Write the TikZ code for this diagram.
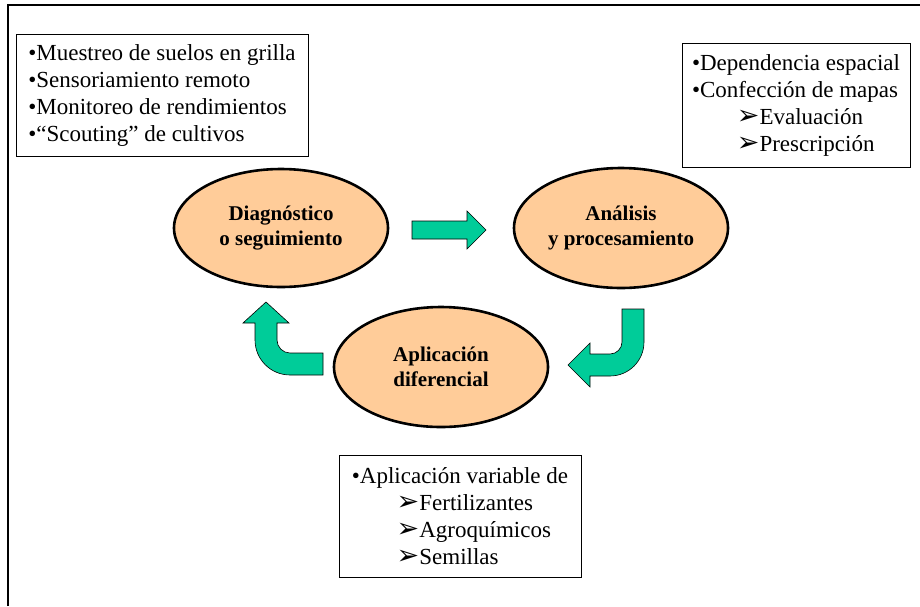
\documentclass[tikz,border=0pt]{standalone}
\usepackage{fontspec}
\setmainfont{Liberation Serif}
\newfontfamily\dingfont{DejaVu Sans}
\usetikzlibrary{shapes.geometric}

\definecolor{peach}{HTML}{FFCC99}
\definecolor{teal}{HTML}{00CC99}
\newcommand{\itm}{\textbullet}
\newcommand{\subitm}{\hspace*{1.95em}{\dingfont\fontsize{27}{27}\selectfont ➢}}

\tikzset{
    listbox/.style={draw, line width=0.8pt, rectangle, align=left, inner sep=0pt,
        font=\fontsize{23}{27}\selectfont},
    stage/.style={draw, line width=2.6pt, ellipse, fill=peach, align=center, inner sep=0pt,
        minimum width=214pt, font=\bfseries\fontsize{21}{25}\selectfont},
    blockarrow/.style={draw, line width=0.6pt, fill=teal}
}

\begin{document}
\begin{tikzpicture}[x=1pt, y=-1pt]
        \useasboundingbox (0,0) rectangle (920,606);
        % frame (top and left edges only)
        \draw[line width=2.6pt] (8,606) -- (8,5) -- (920,5);

        % text boxes
        \node[listbox, minimum width=292pt, minimum height=122pt] (diagbox) at (162,95)
            {\itm Muestreo de suelos en grilla\\
             \itm Sensoriamiento remoto\\
             \itm Monitoreo de rendimientos\\
             \itm ``Scouting'' de cultivos};
        \node[listbox, minimum width=228pt, minimum height=124pt] (analbox) at (796,105)
            {\itm Dependencia espacial\\
             \itm Confección de mapas\\
             \subitm Evaluación\\
             \subitm Prescripción};
        \node[listbox, minimum width=242pt, minimum height=122pt] (aplbox) at (460,516)
            {\itm Aplicación variable de\\
             \subitm Fertilizantes\\
             \subitm Agroquímicos\\
             \subitm Semillas};

        % stages of the cycle
        \node[stage, minimum height=118pt] (diag) at (281,228) {Diagnóstico\\o seguimiento};
        \node[stage, minimum height=120pt] (anal) at (621,228) {Análisis\\y procesamiento};
        \node[stage, minimum height=120pt] (apl) at (441,367) {Aplicación\\diferencial};

        % block arrows
        \draw[blockarrow] (412,221) -- (467,221) -- (467,211) -- (486,230)
            -- (467,249) -- (467,239) -- (412,239) -- cycle;
        \draw[blockarrow] (622,309) -- (644,309) -- (644,342)
            .. controls (644,360.8) and (628.8,376) .. (610,376)
            -- (590,376) -- (590,387) -- (568,365) -- (590,343) -- (590,354) -- (610,354)
            .. controls (616.6,354) and (622,348.6) .. (622,342) -- cycle;
        \draw[blockarrow] (323,353) -- (323,375) -- (290,375)
            .. controls (270.7,375) and (255,359.3) .. (255,340)
            -- (255,323) -- (243,323) -- (266,302) -- (289,323) -- (277,323) -- (277,340)
            .. controls (277,347.2) and (282.8,353) .. (290,353) -- cycle;
    \end{tikzpicture}
\end{document}
